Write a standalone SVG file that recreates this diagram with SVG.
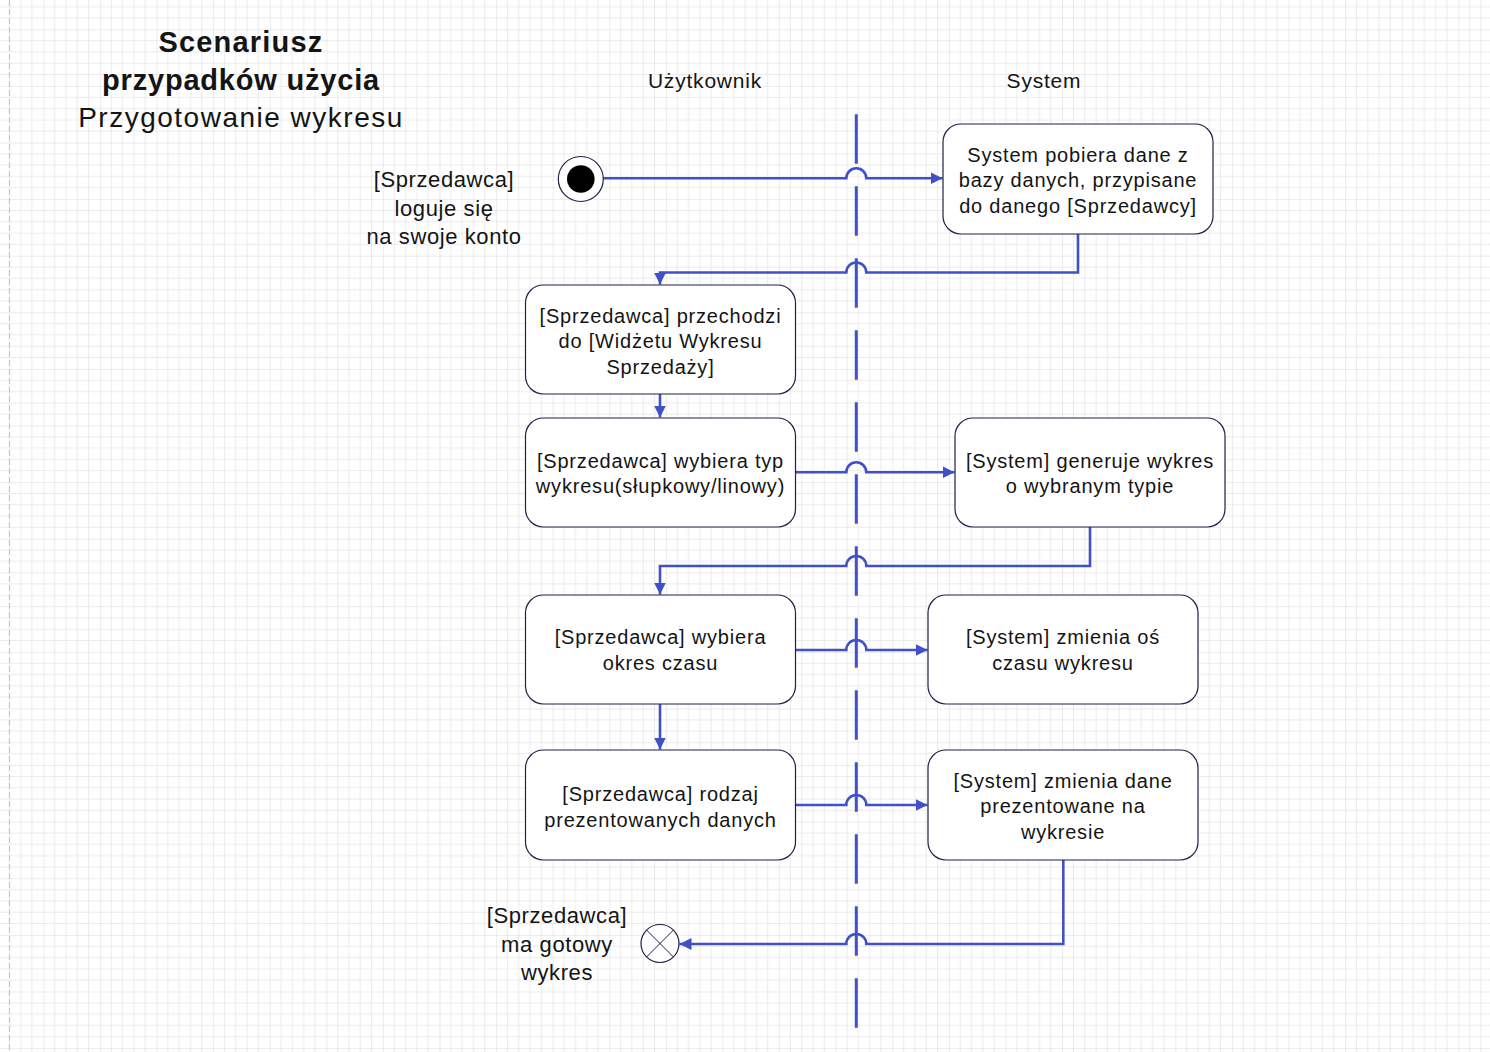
<svg xmlns="http://www.w3.org/2000/svg" width="1490" height="1052" viewBox="0 0 1490 1052">
  <defs>
    <pattern id="grid" patternUnits="userSpaceOnUse" x="43.3" y="29.3" width="56.6" height="56.6">
      <path d="M11.32 0V56.6M22.64 0V56.6M33.96 0V56.6M45.28 0V56.6M0 11.32H56.6M0 22.64H56.6M0 33.96H56.6M0 45.28H56.6" stroke="#ebebeb" stroke-width="1" fill="none"/>
      <path d="M0 0V56.6M0 0H56.6" stroke="#d9d9d9" stroke-width="1" fill="none"/>
    </pattern>
    <marker id="arrow" markerUnits="userSpaceOnUse" markerWidth="14" markerHeight="14" refX="12" refY="7" orient="auto">
      <path d="M0 1 L12 7 L0 13 Z" fill="#4051c7"/>
    </marker>
    <style>
      .txt { font-family: "Liberation Sans", Arial, sans-serif; fill: #141414; text-anchor: middle; }
      .box { fill: #ffffff; stroke: #20204a; stroke-width: 1.2; }
      .body { font-size: 20px; letter-spacing: 0.8px; }
      .side { font-size: 22px; letter-spacing: 0.6px; }
      .lane { font-size: 21px; letter-spacing: 0.8px; }
      .flow { fill: none; stroke: #4051c7; stroke-width: 2.6; marker-end: url(#arrow); }
      .divider { stroke: #4051c7; stroke-width: 3; stroke-dasharray: 49.5 22.5; }
    </style>
  </defs>

  <!-- background grid -->
  <rect width="1490" height="1052" fill="#ffffff"/>
  <rect width="1490" height="1052" fill="url(#grid)"/>
  <line x1="9.5" y1="0" x2="9.5" y2="1052" stroke="#c4c4c4" stroke-width="1" stroke-dasharray="6 3"/>

  <!-- title -->
  <g id="title" class="txt">
    <text x="241" y="52" font-size="29" font-weight="bold" letter-spacing="1.2">Scenariusz</text>
    <text x="241" y="90" font-size="29" font-weight="bold" letter-spacing="0.8">przypadków użycia</text>
    <text x="241" y="127" font-size="28" letter-spacing="1.5">Przygotowanie wykresu</text>
  </g>

  <!-- swimlane headers and divider -->
  <g id="lane-user"><text class="txt lane" x="705" y="88">Użytkownik</text></g>
  <g id="lane-system"><text class="txt lane" x="1044" y="88">System</text></g>
  <g id="lane-divider"><line class="divider" x1="856.3" y1="114.3" x2="856.3" y2="1028"/></g>

  <!-- connectors (jumps over the lane divider) -->
  <g id="connectors">
    <path class="flow" d="M603 178.3 H846.3 A10 10 0 0 1 866.3 178.3 H942.5"/>
    <path class="flow" d="M1078 234 V272.5 H866.3 A10 10 0 0 0 846.3 272.5 H660 V284.5"/>
    <path class="flow" d="M660 394 V417.5"/>
    <path class="flow" d="M795 472.3 H846.3 A10 10 0 0 1 866.3 472.3 H954.5"/>
    <path class="flow" d="M1090 527 V566 H866.3 A10 10 0 0 0 846.3 566 H660 V594.5"/>
    <path class="flow" d="M795 650 H846.3 A10 10 0 0 1 866.3 650 H927.5"/>
    <path class="flow" d="M660 704 V749.5"/>
    <path class="flow" d="M795 805 H846.3 A10 10 0 0 1 866.3 805 H927.5"/>
    <path class="flow" d="M1063.3 860 V944 H866.3 A10 10 0 0 0 846.3 944 H679.5"/>
  </g>

  <!-- start node -->
  <g id="start">
    <circle cx="580.8" cy="179" r="22.5" fill="#ffffff" stroke="#20204a" stroke-width="1.2"/>
    <circle cx="580.8" cy="179" r="13.8" fill="#000000"/>
  </g>
  <g id="start-label" class="txt side">
    <text x="444" y="187">[Sprzedawca]</text>
    <text x="444" y="215.5">loguje się</text>
    <text x="444" y="244">na swoje konto</text>
  </g>

  <!-- activities -->
  <g id="sys-fetch">
    <rect class="box" x="943" y="124" width="270" height="110" rx="18"/>
    <text class="txt body" x="1078" y="161.5">System pobiera dane z</text>
    <text class="txt body" x="1078" y="187">bazy danych, przypisane</text>
    <text class="txt body" x="1078" y="212.5">do danego [Sprzedawcy]</text>
  </g>

  <g id="user-widget">
    <rect class="box" x="525.5" y="285" width="270" height="109" rx="18"/>
    <text class="txt body" x="660.5" y="322.5">[Sprzedawca] przechodzi</text>
    <text class="txt body" x="660.5" y="348">do [Widżetu Wykresu</text>
    <text class="txt body" x="660.5" y="373.5">Sprzedaży]</text>
  </g>

  <g id="user-type">
    <rect class="box" x="525.5" y="418" width="270" height="109" rx="18"/>
    <text class="txt body" x="660.5" y="467.5">[Sprzedawca] wybiera typ</text>
    <text class="txt body" x="660.5" y="493">wykresu(słupkowy/linowy)</text>
  </g>

  <g id="sys-generate">
    <rect class="box" x="955" y="418" width="270" height="109" rx="18"/>
    <text class="txt body" x="1090" y="467.5">[System] generuje wykres</text>
    <text class="txt body" x="1090" y="493">o wybranym typie</text>
  </g>

  <g id="user-period">
    <rect class="box" x="525.5" y="595" width="270" height="109" rx="18"/>
    <text class="txt body" x="660.5" y="644">[Sprzedawca] wybiera</text>
    <text class="txt body" x="660.5" y="669.5">okres czasu</text>
  </g>

  <g id="sys-axis">
    <rect class="box" x="928" y="595" width="270" height="109" rx="18"/>
    <text class="txt body" x="1063" y="644">[System] zmienia oś</text>
    <text class="txt body" x="1063" y="669.5">czasu wykresu</text>
  </g>

  <g id="user-data">
    <rect class="box" x="525.5" y="750" width="270" height="110" rx="18"/>
    <text class="txt body" x="660.5" y="801">[Sprzedawca] rodzaj</text>
    <text class="txt body" x="660.5" y="826.5">prezentowanych danych</text>
  </g>

  <g id="sys-data">
    <rect class="box" x="928" y="750" width="270" height="110" rx="18"/>
    <text class="txt body" x="1063" y="787.5">[System] zmienia dane</text>
    <text class="txt body" x="1063" y="813">prezentowane na</text>
    <text class="txt body" x="1063" y="838.5">wykresie</text>
  </g>

  <!-- final node -->
  <g id="end">
    <circle cx="660" cy="943.5" r="19" fill="#ffffff" stroke="#20204a" stroke-width="1.2"/>
    <path d="M646.6 930.1 L673.4 956.9 M673.4 930.1 L646.6 956.9" stroke="#20204a" stroke-width="1"/>
  </g>
  <g id="end-label" class="txt side">
    <text x="557" y="923">[Sprzedawca]</text>
    <text x="557" y="951.5">ma gotowy</text>
    <text x="557" y="980">wykres</text>
  </g>
</svg>
